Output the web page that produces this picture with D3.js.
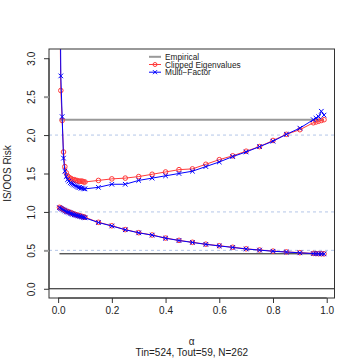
<html lang="en">
  <head>
    <meta charset="UTF-8" />
    <title>IS/OOS Risk</title>
    <script src="https://d3js.org/d3.v7.min.js"></script>
  </head>
  <style>
    body {
      margin: 0px;
      overflow: hidden;
      background: #fff;
    }
    text {
      font-family: "Liberation Sans", Arial, sans-serif;
      fill: #222;
    }
  </style>
  <body>
    <svg width="360" height="360"></svg>
  </body>
  <footer>
    <script>
      // alpha grid
      var alpha = [0.005, 0.01, 0.015, 0.02, 0.025, 0.03, 0.035, 0.04, 0.045, 0.05,
        0.055, 0.06, 0.065, 0.07, 0.075, 0.08, 0.085, 0.09, 0.095, 0.1,
        0.15, 0.2, 0.25, 0.3, 0.35, 0.4, 0.45, 0.5, 0.55, 0.6, 0.65, 0.7, 0.75,
        0.8, 0.85, 0.9, 0.95, 0.96, 0.97, 0.98, 0.99];

      // out-of-sample risk
      var clippedOOS = [4.2, 2.58, 2.19, 1.78, 1.59, 1.51, 1.47, 1.45, 1.44, 1.43,
        1.42, 1.42, 1.41, 1.41, 1.40, 1.40, 1.40, 1.40, 1.39, 1.39,
        1.41, 1.43, 1.44, 1.46, 1.49, 1.52, 1.55, 1.56, 1.62, 1.68, 1.73, 1.79, 1.85,
        1.93, 2.01, 2.07, 2.16, 2.17, 2.18, 2.19, 2.20];
      var factorOOS = [5.0, 2.77, 2.24, 1.70, 1.53, 1.46, 1.42, 1.40, 1.38, 1.37,
        1.36, 1.35, 1.34, 1.33, 1.32, 1.32, 1.31, 1.31, 1.30, 1.30,
        1.32, 1.36, 1.36, 1.41, 1.44, 1.47, 1.50, 1.53, 1.59, 1.65, 1.72, 1.78, 1.85,
        1.92, 2.01, 2.09, 2.20, 2.22, 2.24, 2.31, 2.26];

      // in-sample risk
      var clippedIS = [1.06, 1.05, 1.04, 1.03, 1.02, 1.01, 1.005, 1.0, 0.99, 0.985,
        0.98, 0.97, 0.965, 0.96, 0.955, 0.95, 0.945, 0.94, 0.935, 0.93,
        0.865, 0.82, 0.77, 0.73, 0.70, 0.66, 0.63, 0.605, 0.58, 0.56, 0.54, 0.52, 0.505,
        0.49, 0.48, 0.47, 0.46, 0.458, 0.457, 0.456, 0.455];
      var factorIS = [1.055, 1.045, 1.035, 1.025, 1.015, 1.005, 0.997, 0.992, 0.982, 0.977,
        0.97, 0.963, 0.958, 0.953, 0.948, 0.943, 0.938, 0.933, 0.928, 0.923,
        0.862, 0.817, 0.768, 0.728, 0.698, 0.658, 0.628, 0.603, 0.578, 0.558, 0.538, 0.518, 0.503,
        0.488, 0.478, 0.468, 0.458, 0.457, 0.456, 0.455, 0.454];

      var empirical = 2.2;
      var inSampleRef = 0.455;
      var guides = [0.5, 1.0, 2.0];
      var xTicks = [0, 0.2, 0.4, 0.6, 0.8, 1.0];
      var yTicks = [0, 0.5, 1.0, 1.5, 2.0, 2.5, 3.0];
      var legendLabels = ["Empirical", "Clipped Eigenvalues", "Multi\u2212Factor"];

      var svg = d3.select("svg");
      var pLeft = 49, pRight = 334.5, pTop = 49, pBottom = 298;

      var x = d3.scaleLinear().domain([-0.034, 1.029]).range([pLeft, pRight]);
      var y = d3.scaleLinear().domain([-0.12, 3.12]).range([pBottom, pTop]);

      svg.append("clipPath").attr("id", "plot")
        .append("rect")
        .attr("x", pLeft).attr("y", pTop)
        .attr("width", pRight - pLeft).attr("height", pBottom - pTop);

      var g = svg.append("g").attr("clip-path", "url(#plot)");

      // dashed guides
      g.selectAll(".guide")
        .data(guides)
        .enter()
        .append("line")
        .attr("x1", pLeft).attr("x2", pRight)
        .attr("y1", function (d) { return y(d); })
        .attr("y2", function (d) { return y(d); })
        .attr("stroke", "#b4c6e8")
        .attr("stroke-dasharray", "3,3");

      // zero line
      g.append("line")
        .attr("x1", pLeft).attr("x2", pRight)
        .attr("y1", y(0)).attr("y2", y(0))
        .attr("stroke", "#111");

      // empirical reference
      g.append("line")
        .attr("x1", x(alpha[0])).attr("x2", x(alpha[alpha.length - 1]))
        .attr("y1", y(empirical)).attr("y2", y(empirical))
        .attr("stroke", "#999").attr("stroke-width", 2);

      g.append("line")
        .attr("x1", x(alpha[0])).attr("x2", x(alpha[alpha.length - 1]))
        .attr("y1", y(inSampleRef)).attr("y2", y(inSampleRef))
        .attr("stroke", "#111");

      var line = d3.line()
        .x(function (d) { return x(d[0]); })
        .y(function (d) { return y(d[1]); });

      function zip(vals) {
        return alpha.map(function (a, i) { return [a, vals[i]]; });
      }

      var red = "#ff3b3b";
      var blue = "#0000ff";

      function drawCircles(vals) {
        var pts = zip(vals);
        g.append("path").datum(pts)
          .attr("d", line).attr("fill", "none")
          .attr("stroke", red).attr("stroke-width", 1);
        g.selectAll(null)
          .data(pts)
          .enter()
          .append("circle")
          .attr("cx", function (d) { return x(d[0]); })
          .attr("cy", function (d) { return y(d[1]); })
          .attr("r", 2.3)
          .attr("fill", "none")
          .attr("stroke", red);
      }

      function drawCrosses(vals) {
        var pts = zip(vals);
        var s = 2.3;
        g.append("path").datum(pts)
          .attr("d", line).attr("fill", "none")
          .attr("stroke", blue).attr("stroke-width", 1);
        g.selectAll(null)
          .data(pts)
          .enter()
          .append("path")
          .attr("d", function (d) {
            var cx = x(d[0]), cy = y(d[1]);
            return "M" + (cx - s) + "," + (cy - s) + "L" + (cx + s) + "," + (cy + s) +
              "M" + (cx - s) + "," + (cy + s) + "L" + (cx + s) + "," + (cy - s);
          })
          .attr("stroke", blue);
      }

      drawCircles(clippedOOS);
      drawCircles(clippedIS);
      drawCrosses(factorOOS);
      drawCrosses(factorIS);

      // box
      svg.append("rect")
        .attr("x", pLeft).attr("y", pTop)
        .attr("width", pRight - pLeft).attr("height", pBottom - pTop)
        .attr("fill", "none").attr("stroke", "#333");

      // axes
      var xAxis = d3.axisBottom(x).tickValues(xTicks).tickSize(5).tickPadding(4)
        .tickFormat(d3.format(".1f"));
      var gx = svg.append("g")
        .attr("transform", "translate(0," + pBottom + ")")
        .call(xAxis);
      gx.select(".domain")
        .attr("d", "M" + x(0) + ",0V0H" + x(1) + "V0")
        .attr("stroke", "#333");
      gx.selectAll(".tick line").attr("stroke", "#333");
      gx.selectAll("text").attr("font-size", 10).attr("fill", "#222")
        .attr("font-family", "Liberation Sans, Arial, sans-serif");

      var yAxis = d3.axisLeft(y).tickValues(yTicks).tickSize(5).tickPadding(0)
        .tickFormat(d3.format(".1f"));
      var gy = svg.append("g")
        .attr("transform", "translate(" + pLeft + ",0)")
        .call(yAxis);
      gy.select(".domain")
        .attr("d", "M0," + y(0) + "H0V" + y(3) + "H0")
        .attr("stroke", "#333");
      gy.selectAll(".tick line")
        .attr("stroke", function (d) { return d === 0.5 || d === 2.5 ? "#999" : "#333"; })
        .attr("stroke-width", function (d) { return d === 0.5 || d === 2.5 ? 2 : 1; });
      gy.selectAll("text")
        .attr("font-size", 10).attr("fill", "#222")
        .attr("font-family", "Liberation Sans, Arial, sans-serif")
        .attr("x", 0).attr("dy", 0)
        .attr("text-anchor", "middle")
        .attr("transform", "translate(-14,0) rotate(-90)");

      // labels
      svg.append("text")
        .attr("transform", "translate(11," + ((pTop + pBottom) / 2) + ") rotate(-90)")
        .attr("text-anchor", "middle")
        .attr("font-size", 10)
        .text("IS/OOS Risk");

      svg.append("text")
        .attr("x", (pLeft + pRight) / 2).attr("y", 345)
        .attr("text-anchor", "middle")
        .attr("font-size", 10)
        .text("\u03b1");

      svg.append("text")
        .attr("x", (pLeft + pRight) / 2).attr("y", 356)
        .attr("text-anchor", "middle")
        .attr("font-size", 10)
        .text("Tin=524, Tout=59, N=262");

      // legend
      var legend = svg.append("g");
      var rows = [56.8, 64.5, 72.2];
      var colors = ["#999", red, blue];
      legendLabels.forEach(function (lab, i) {
        legend.append("line")
          .attr("x1", 149).attr("x2", 161)
          .attr("y1", rows[i]).attr("y2", rows[i])
          .attr("stroke", colors[i])
          .attr("stroke-width", i === 0 ? 2 : 1);
        if (i === 1) {
          legend.append("circle").attr("cx", 155).attr("cy", rows[i]).attr("r", 2)
            .attr("fill", "none").attr("stroke", red);
        }
        if (i === 2) {
          legend.append("path")
            .attr("d", "M153," + (rows[i] - 2) + "L157," + (rows[i] + 2) +
              "M153," + (rows[i] + 2) + "L157," + (rows[i] - 2))
            .attr("stroke", blue);
        }
        legend.append("text")
          .attr("x", 165).attr("y", rows[i] + 3)
          .attr("font-size", 8.3)
          .text(lab);
      });
    </script>
  </footer>
</html>
